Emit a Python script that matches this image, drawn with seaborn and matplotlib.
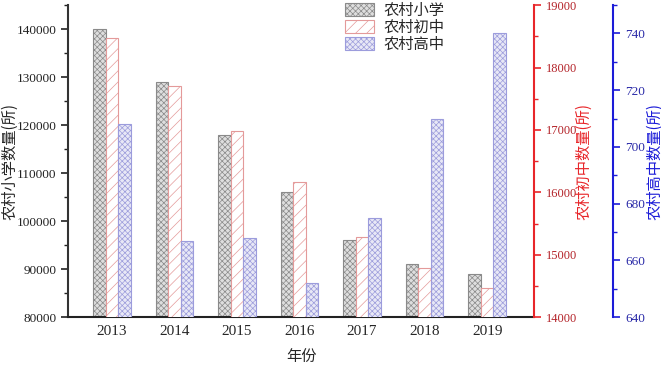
import matplotlib
matplotlib.use('Agg')
import matplotlib.pyplot as plt
from matplotlib.patches import Patch
from matplotlib.ticker import MultipleLocator
import seaborn as sns
import pandas as pd

# data
years = [2013, 2014, 2015, 2016, 2017, 2018, 2019]
primary = [140000, 129000, 118000, 106000, 96000, 91000, 89000]
junior = [18480, 17700, 16990, 16160, 15280, 14790, 14470]
senior = [708, 667, 668, 652, 675, 710, 740]
categories = ['农村小学', '农村初中', '农村高中']

df = pd.DataFrame({
    '年份': years * 3,
    '类别': [c for c in categories for _ in years],
    '数量': primary + junior + senior,
})

styles = {
    '农村小学': dict(facecolor='#dedede', edgecolor='#8a8a8a', hatch='xxxxxx'),
    '农村初中': dict(facecolor='white', edgecolor='#e49a9a', hatch='///'),
    '农村高中': dict(facecolor='#e8e8f6', edgecolor='#9c9cdc', hatch='xxxxxx'),
}

sns.set_style('ticks')
plt.rcParams['font.family'] = ['Liberation Serif', 'Noto Sans CJK SC']
plt.rcParams['hatch.linewidth'] = 0.5
cjk = ['Noto Sans CJK SC', 'Liberation Serif']

fig = plt.figure(figsize=(6.61, 3.67), dpi=100)
ax = fig.add_axes([0.103, 0.136, 0.705, 0.850])
ax2 = ax.twinx()
ax3 = ax.twinx()

for a, cat in zip([ax, ax2, ax3], categories):
    sns.barplot(data=df[df['类别'] == cat], x='年份', y='数量', hue='类别',
                hue_order=categories, dodge=True, width=0.6, errorbar=None,
                legend=False, ax=a)
    for p in a.patches:
        p.set_facecolor(styles[cat]['facecolor'])
        p.set_edgecolor(styles[cat]['edgecolor'])
        p.set_hatch(styles[cat]['hatch'])
        p.set_linewidth(0.8)

ax.set_xlim(-0.7, 6.75)
ax.set_ylim(80000, 145000)
ax2.set_ylim(14000, 19000)
ax3.set_ylim(640, 750)

# left axis
ax.yaxis.set_major_locator(MultipleLocator(10000))
ax.yaxis.set_minor_locator(MultipleLocator(5000))
ax.tick_params(axis='y', which='major', length=5, width=1.2, labelsize=9.5, colors='#222222')
ax.tick_params(axis='y', which='minor', length=3, width=1.0, color='#222222')
ax.tick_params(axis='x', length=0, labelsize=11, pad=6)
ax.set_xlabel('年份', family=cjk, fontsize=11, labelpad=7)
ax.set_ylabel('农村小学数量(所)', family=cjk, fontsize=11)
ax.yaxis.set_label_coords(-0.107, 0.5)
ax.spines['top'].set_visible(False)
ax.spines['right'].set_visible(False)
ax.spines['left'].set_linewidth(1.5)
ax.spines['left'].set_color('#333333')
ax.spines['bottom'].set_linewidth(1.5)
ax.spines['bottom'].set_color('#222222')

# red axis
red, red_txt = '#e8262a', '#b4242a'
ax2.yaxis.set_major_locator(MultipleLocator(1000))
ax2.yaxis.set_minor_locator(MultipleLocator(500))
ax2.tick_params(axis='y', which='major', length=5, width=1.2, color=red, labelcolor=red_txt, labelsize=9)
ax2.tick_params(axis='y', which='minor', length=3, width=1.0, color=red)
ax2.set_ylabel('农村初中数量(所)', family=cjk, fontsize=11, color=red)
ax2.yaxis.set_label_coords(1.088, 0.5)
for s in ['top', 'left', 'bottom']:
    ax2.spines[s].set_visible(False)
ax2.spines['right'].set_color(red)
ax2.spines['right'].set_linewidth(1.5)

# blue axis
blue, blue_txt = '#1c1cd8', '#2a2aa8'
ax3.spines['right'].set_position(('outward', 57))
ax3.yaxis.set_major_locator(MultipleLocator(20))
ax3.yaxis.set_minor_locator(MultipleLocator(10))
ax3.tick_params(axis='y', which='major', length=5, width=1.2, color=blue, labelcolor=blue_txt, labelsize=9.5)
ax3.tick_params(axis='y', which='minor', length=3, width=1.0, color=blue)
ax3.set_ylabel('农村高中数量(所)', family=cjk, fontsize=11, color=blue)
ax3.yaxis.set_label_coords(1.240, 0.5)
for s in ['top', 'left', 'bottom']:
    ax3.spines[s].set_visible(False)
ax3.spines['right'].set_color(blue)
ax3.spines['right'].set_linewidth(1.5)

handles = [Patch(label=c, linewidth=0.8, **styles[c]) for c in categories]
ax3.legend(handles=handles, loc='upper left', bbox_to_anchor=(0.564, 1.054),
           frameon=False, prop={'family': cjk, 'size': 11},
           handlelength=1.95, handleheight=0.9, labelspacing=0.0, handletextpad=0.6)

fig.savefig('out.png', dpi=100)
